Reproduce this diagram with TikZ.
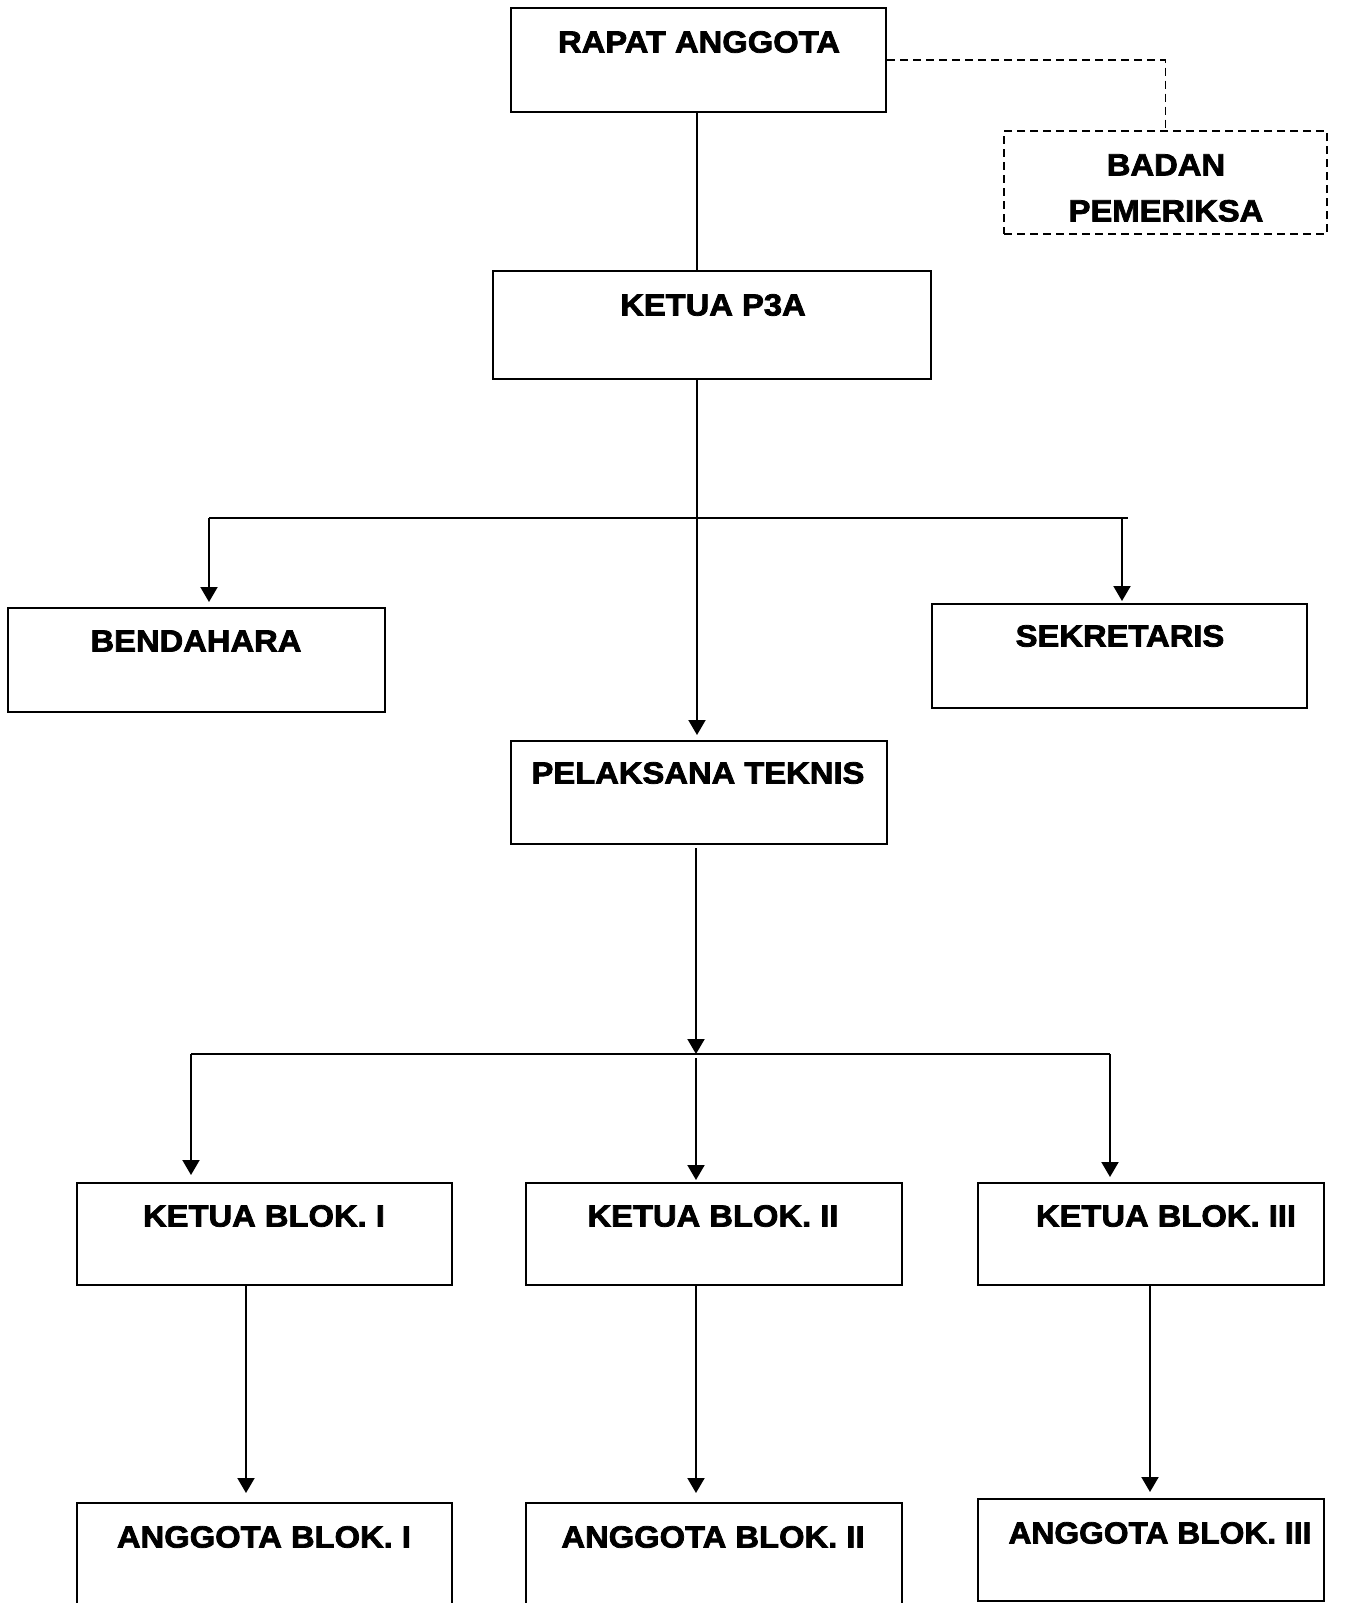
\documentclass[tikz,border=0pt]{standalone}
\usepackage{fontspec}
\newfontfamily\chartfont[BoldFeatures={FakeBold=2.5,FakeStretch=1.07}]{Liberation Sans}
\usetikzlibrary{arrows.meta}
\begin{document}
\begin{tikzpicture}[x=0.5pt,y=-0.5pt,
  box/.style={draw,line width=1pt,rectangle,inner sep=0pt},
  dbox/.style={box,dash pattern=on 4pt off 2.5pt},
  lbl/.style={font=\chartfont\bfseries\fontsize{15.3}{23}\selectfont,inner sep=0pt,align=center},
  conn/.style={line width=1pt},
  arr/.style={conn,-{Triangle[length=7.5pt,width=8.5pt]}},
  dconn/.style={line width=0.8pt,dash pattern=on 4pt off 2.5pt}]
\useasboundingbox (0,0) rectangle (1361,1603);
% boxes
\node[box,minimum width=187.5pt,minimum height=52pt] (ra) at (698.5,60) {};
\node[dbox,minimum width=161.5pt,minimum height=51.5pt] (bp) at (1165.5,182.5) {};
\node[box,minimum width=219pt,minimum height=54pt] (kp) at (712,325) {};
\node[box,minimum width=188.5pt,minimum height=52pt] (ben) at (196.5,660) {};
\node[box,minimum width=187.5pt,minimum height=52pt] (sek) at (1119.5,656) {};
\node[box,minimum width=188pt,minimum height=51.5pt] (pt) at (699,792.5) {};
\node[box,minimum width=187.5pt,minimum height=51pt] (kb1) at (264.5,1234) {};
\node[box,minimum width=188pt,minimum height=51pt] (kb2) at (714,1234) {};
\node[box,minimum width=173pt,minimum height=51pt] (kb3) at (1151,1234) {};
\node[box,minimum width=187.5pt,minimum height=56pt] (ab1) at (264.5,1559) {};
\node[box,minimum width=188pt,minimum height=56pt] (ab2) at (714,1559) {};
\node[box,minimum width=173pt,minimum height=51pt] (ab3) at (1151,1550) {};
% labels
\node[lbl] (tra) at (699,42) {RAPAT ANGGOTA};
\node[lbl] (tbp) at (1166,188) {BADAN\\PEMERIKSA};
\node[lbl] (tkp) at (713,305) {KETUA P3A};
\node[lbl] (tben) at (196,641) {BENDAHARA};
\node[lbl] (tsek) at (1120,636) {SEKRETARIS};
\node[lbl] (tpt) at (698,773) {PELAKSANA TEKNIS};
\node[lbl] (tkb1) at (264,1216) {KETUA BLOK. I};
\node[lbl] (tkb2) at (713,1216) {KETUA BLOK. II};
\node[lbl] (tkb3) at (1166,1216) {KETUA BLOK. III};
\node[lbl] (tab1) at (264,1537) {ANGGOTA BLOK. I};
\node[lbl] (tab2) at (713,1537) {ANGGOTA BLOK. II};
\node[lbl,xscale=0.97] (tab3) at (1160,1533) {ANGGOTA BLOK. III};
% helper coordinates
\coordinate (sp) at (697,0);
\coordinate (hl) at (209,518);
\coordinate (hr) at (1128,518);
\coordinate (hs) at (1122,518);
\coordinate (pts) at (696,848);
\coordinate (ll) at (191,1054);
\coordinate (lm) at (696,1054);
\coordinate (lm2) at (696,1058);
\coordinate (lr) at (1110,1054);
\coordinate (c1) at (246,0);
\coordinate (c2) at (696,0);
\coordinate (c3) at (1150,0);
% connectors
\draw[conn] (ra.south -| sp) -- (kp.north -| sp);
\draw[dconn] (ra.east) -| (bp.north);
\draw[arr] (kp.south -| sp) -- ([yshift=2.5pt]pt.north -| sp);
\draw[conn] (hl) -- (hr);
\draw[arr] (hl) -- ([yshift=2.5pt]ben.north -| hl);
\draw[arr] (hs) -- ([yshift=1pt]sek.north -| hs);
\draw[arr] (pts) -- (lm);
\draw[conn] (ll) -- (lr);
\draw[arr] (ll) -- ([yshift=3.5pt]kb1.north -| ll);
\draw[arr] (lm2) -- ([yshift=1pt]kb2.north -| lm2);
\draw[arr] (lr) -- ([yshift=2.5pt]kb3.north -| lr);
\draw[arr] (kb1.south -| c1) -- ([yshift=4.5pt]ab1.north -| c1);
\draw[arr] (kb2.south -| c2) -- ([yshift=4.5pt]ab2.north -| c2);
\draw[arr] (kb3.south -| c3) -- ([yshift=3pt]ab3.north -| c3);
\end{tikzpicture}
\end{document}
